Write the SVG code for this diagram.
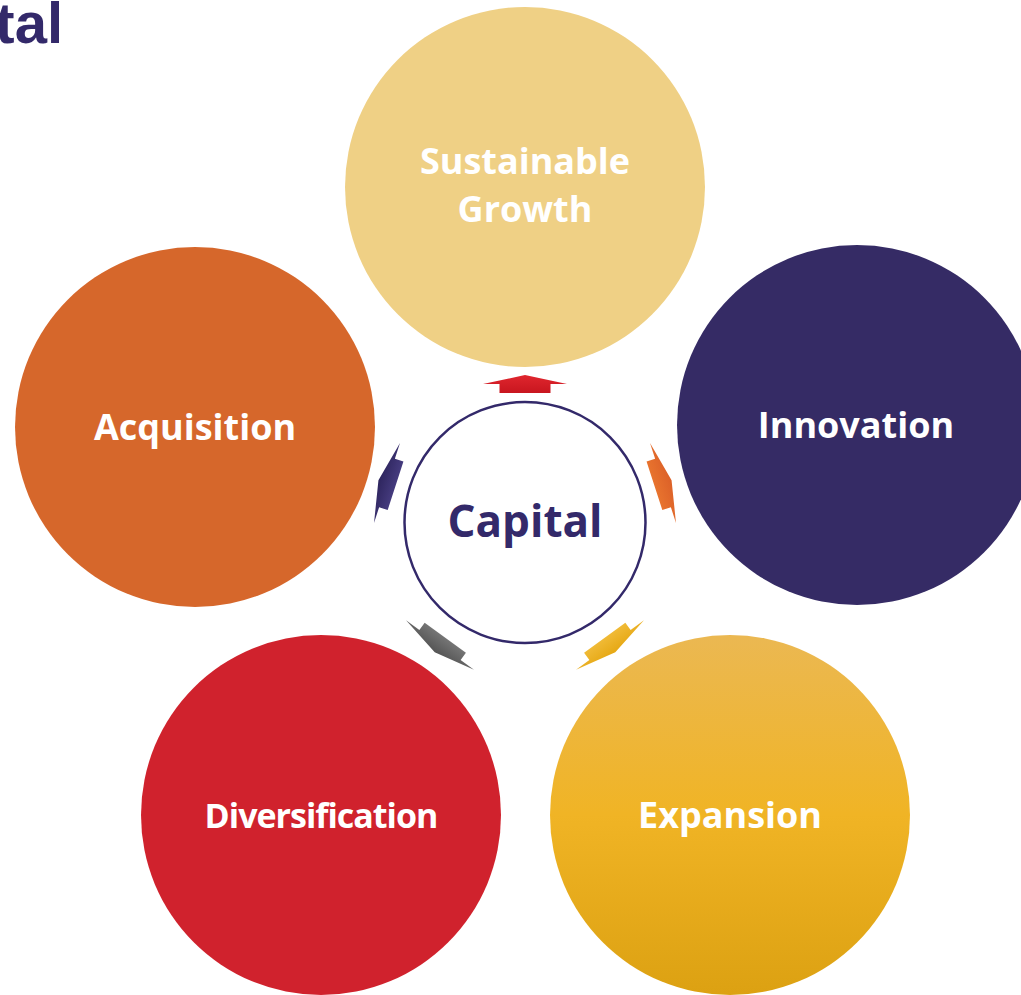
<svg xmlns="http://www.w3.org/2000/svg" width="1021" height="995" viewBox="0 0 1021 995">
  <style>
    .label { font-family: "Open Sans", "Noto Sans", "Liberation Sans", sans-serif; font-weight: 700; fill: #ffffff; font-size: 36px; text-anchor: middle; }
    .label.tight { font-size: 34px; letter-spacing: -1px; }
    .hub-label { font-family: "Open Sans", "Noto Sans", "Liberation Sans", sans-serif; font-weight: 700; fill: #33296A; font-size: 44px; text-anchor: middle; }
    .title { font-family: "Liberation Sans", Arial, sans-serif; font-weight: 700; fill: #33296A; font-size: 58px; text-anchor: end; }
  </style>
  <defs>
    <linearGradient id="gExpansion" x1="0" y1="0" x2="0" y2="1">
      <stop offset="0" stop-color="#EBB852"/>
      <stop offset="0.5" stop-color="#F0B425"/>
      <stop offset="1" stop-color="#DCA112"/>
    </linearGradient>
    <linearGradient id="gRed" x1="0" y1="0" x2="0" y2="1">
      <stop offset="0" stop-color="#E0262E"/>
      <stop offset="1" stop-color="#C8161F"/>
    </linearGradient>
    <linearGradient id="gOrange" x1="0" y1="0" x2="0" y2="1">
      <stop offset="0" stop-color="#DC6128"/>
      <stop offset="1" stop-color="#E8732E"/>
    </linearGradient>
    <linearGradient id="gYellow" x1="0" y1="0" x2="0" y2="1">
      <stop offset="0" stop-color="#E6A814"/>
      <stop offset="1" stop-color="#F0BA36"/>
    </linearGradient>
    <linearGradient id="gGray" x1="0" y1="0" x2="0" y2="1">
      <stop offset="0" stop-color="#555555"/>
      <stop offset="1" stop-color="#757575"/>
    </linearGradient>
    <linearGradient id="gPurple" x1="0" y1="0" x2="0" y2="1">
      <stop offset="0" stop-color="#2E255E"/>
      <stop offset="1" stop-color="#453B7E"/>
    </linearGradient>
    <!-- outward-pointing arrow, tip toward -y, centred on the head base -->
    <path id="arrow" d="M0,-9 L42,0 L25.5,0 L25.5,9 L-25.5,9 L-25.5,0 L-42,0 Z"/>
  </defs>

  <!-- page title, running off the left edge -->
  <text class="title" x="63" y="43">tal</text>

  <!-- connectors: arrows from hub to each outer circle -->
  <g id="connectors">
    <use href="#arrow" fill="url(#gRed)" transform="translate(525,384)"/>
    <use href="#arrow" fill="url(#gOrange)" transform="translate(663,483) rotate(72)"/>
    <use href="#arrow" fill="url(#gYellow)" transform="translate(610,645) rotate(144)"/>
    <use href="#arrow" fill="url(#gGray)" transform="translate(440,645) rotate(216)"/>
    <use href="#arrow" fill="url(#gPurple)" transform="translate(387,483) rotate(288)"/>
  </g>

  <g id="hub">
    <circle cx="525" cy="522.5" r="120.5" fill="#ffffff" stroke="#33296A" stroke-width="2.5"/>
    <text class="hub-label" x="525" y="537">Capital</text>
  </g>

  <g id="sustainable-growth">
    <circle cx="525" cy="187" r="180" fill="#EFD085"/>
    <text class="label" x="525" y="174">Sustainable</text>
    <text class="label" x="525" y="222">Growth</text>
  </g>

  <g id="innovation">
    <circle cx="857" cy="425" r="180" fill="#352B65"/>
    <text class="label" x="856" y="438">Innovation</text>
  </g>

  <g id="expansion">
    <circle cx="730" cy="815" r="180" fill="url(#gExpansion)"/>
    <text class="label" x="730" y="828">Expansion</text>
  </g>

  <g id="diversification">
    <circle cx="321" cy="815" r="180" fill="#D0222D"/>
    <text class="label tight" x="321" y="828">Diversification</text>
  </g>

  <g id="acquisition">
    <circle cx="195" cy="427" r="180" fill="#D6672B"/>
    <text class="label" x="195" y="440">Acquisition</text>
  </g>
</svg>
